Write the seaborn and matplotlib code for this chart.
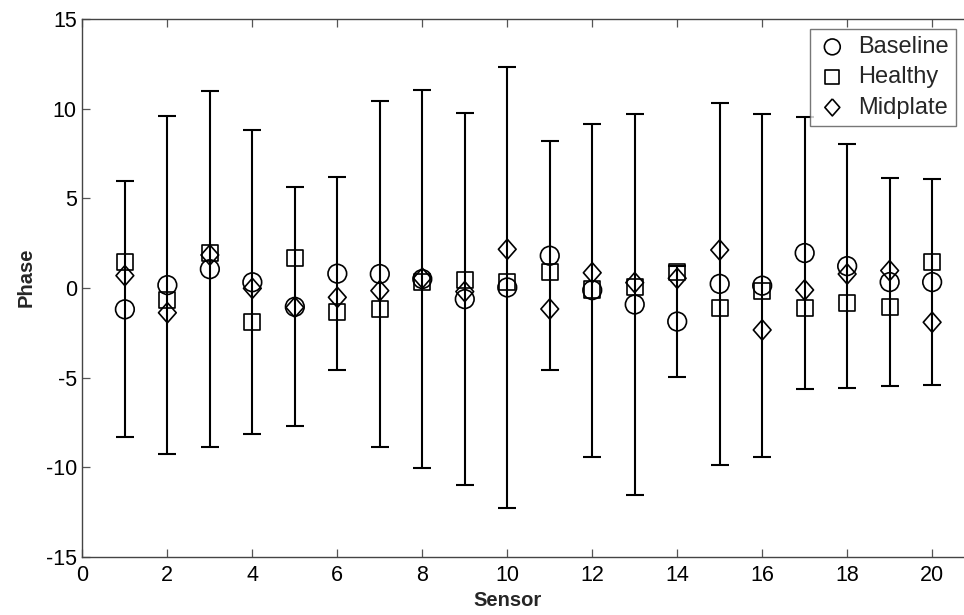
import numpy as np
import pandas as pd
import matplotlib
matplotlib.use("Agg")
import matplotlib.pyplot as plt
from matplotlib import font_manager
import seaborn as sns

sensors = list(range(1, 21))
baseline = [-1.19, 0.16, 1.05, 0.32, -1.05, 0.80, 0.78, 0.50, -0.62, 0.03,
            1.80, -0.12, -0.92, -1.87, 0.23, 0.13, 1.95, 1.22, 0.33, 0.33]
healthy = [1.43, -0.67, 1.93, -1.88, 1.69, -1.36, -1.19, 0.35, 0.45, 0.35,
           0.87, -0.08, 0.07, 0.87, -1.13, -0.15, -1.13, -0.85, -1.04, 1.47]
midplate = [0.69, -1.38, 1.84, -0.02, -1.08, -0.52, -0.15, 0.55, -0.20, 2.16,
            -1.17, 0.85, 0.30, 0.54, 2.12, -2.34, -0.11, 0.78, 0.97, -1.91]
baseline_err = [7.13, 9.41, 9.93, 8.47, 6.66, 5.37, 9.65, 10.55, 10.36, 12.30,
                6.38, 9.28, 10.60, 3.10, 10.09, 9.56, 7.60, 6.82, 5.78, 5.73]

x_ticks = list(range(0, 21, 2))
y_ticks = list(range(-15, 16, 5))

sns.set_theme(style="white")
plt.rcParams['font.family'] = ['Liberation Sans', 'DejaVu Sans']
plt.rcParams['axes.unicode_minus'] = False

names = {f.name for f in font_manager.fontManager.ttflist}
label_family = ['Liberation Sans Narrow'] if 'Liberation Sans Narrow' in names else ['Liberation Sans']
label_size = 17 if 'Liberation Sans Narrow' in names else 14.5

df = pd.DataFrame({"Sensor": sensors, "Baseline": baseline, "Healthy": healthy,
                   "Midplate": midplate, "err": baseline_err})

fig = plt.figure(figsize=(9.64, 6.15), dpi=100)
ax = fig.add_axes([82.4 / 964, 58 / 615, 881.6 / 964, 538 / 615])

ax.errorbar(df["Sensor"], df["Baseline"], yerr=df["err"], fmt="none",
            ecolor="black", elinewidth=1.5, capsize=6.2, capthick=1.5, zorder=2)

diamond = [(0, 1), (0.88, 0), (0, -1), (-0.88, 0), (0, 1)]
specs = [("Baseline", "o", 180), ("Healthy", "s", 135), ("Midplate", diamond, 210)]
for name, mk, s in specs:
    sns.scatterplot(data=df, x="Sensor", y=name, marker=mk, s=s, ax=ax,
                    facecolor="none", edgecolor="black", linewidth=1.2,
                    label=name, zorder=3)

ax.set_xlim(0, 20.75)
ax.set_ylim(-15, 15)
ax.set_xticks(x_ticks)
ax.set_yticks(y_ticks)
ax.tick_params(axis="both", direction="in", length=6, width=0.9, color="#555555",
               labelsize=15.5, labelcolor="black", top=True, bottom=True,
               left=True, right=False)
ax.tick_params(axis="x", pad=6)
ax.tick_params(axis="y", pad=4)
for side in ["left", "bottom", "top"]:
    ax.spines[side].set_visible(True)
    ax.spines[side].set_color("#444444")
    ax.spines[side].set_linewidth(1.0)
ax.spines["right"].set_visible(False)

ax.set_xlabel("Sensor", fontsize=label_size, fontweight="bold", family=label_family)
ax.set_ylabel("Phase", fontsize=label_size, fontweight="bold", family=label_family)
ax.xaxis.set_label_coords(10 / 20.75, -0.063)
ax.yaxis.set_label_coords(-0.053, 0.52)

leg = ax.legend(loc="upper right", bbox_to_anchor=(956 / 964, 1 - 29 / 615),
                bbox_transform=fig.transFigure, borderaxespad=0, frameon=True,
                fancybox=False, fontsize=17, handletextpad=0.45,
                labelspacing=0.35, borderpad=0.3, handlelength=1.3)
for h, sz in zip(leg.legend_handles, [130, 100, 150]):
    h.set_sizes([sz])
leg.get_frame().set_edgecolor("#555555")
leg.get_frame().set_linewidth(1.0)

fig.savefig("out.png", dpi=100)
